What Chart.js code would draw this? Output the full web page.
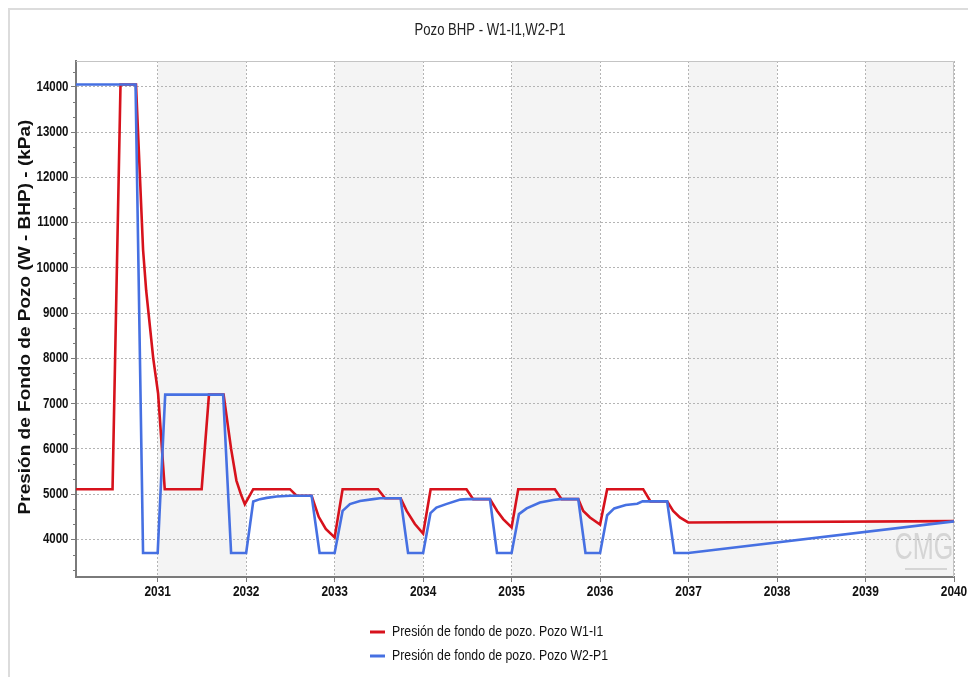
<!DOCTYPE html>
<html>
<head>
<meta charset="utf-8">
<script src="https://cdn.jsdelivr.net/npm/chart.js@4/dist/chart.umd.min.js"></script>
<style>
html,body{margin:0;padding:0;background:#fff;}
#wrap{width:968px;height:677px;position:relative;}
</style>
</head>
<body>
<div id="wrap"><canvas id="c" width="968" height="677"></canvas></div>
<script>
// ---------- data ----------
const chartTitle = 'Pozo BHP - W1-I1,W2-P1';
const yAxisTitle = 'Presión de Fondo de Pozo (W - BHP) - (kPa)';
const seriesNames = ['Presión de fondo de pozo. Pozo W1-I1', 'Presión de fondo de pozo. Pozo W2-P1'];
const watermarkText = 'CMG';

const xTickYears = [2031, 2032, 2033, 2034, 2035, 2036, 2037, 2038, 2039, 2040];
const yTickValues = [4000, 5000, 6000, 7000, 8000, 9000, 10000, 11000, 12000, 13000, 14000];
const shadedBandStarts = [2031, 2033, 2035, 2037, 2039];
const xRange = [2030.077, 2040];
const yRange = [3170, 14570];

// W1-I1 (red)
const redYears = [2030.077, 2030.49, 2030.58, 2030.755, 2030.835, 2030.87, 2030.95, 2031.005, 2031.08,
  2031.497, 2031.58, 2031.745, 2031.83, 2031.89, 2031.94, 2031.985, 2032.08,
  2032.495, 2032.57, 2032.74, 2032.82, 2032.9, 2033.0, 2033.09,
  2033.49, 2033.57, 2033.746, 2033.814, 2033.907, 2034.0, 2034.085,
  2034.49, 2034.566, 2034.755, 2034.837, 2034.905, 2035.0, 2035.075,
  2035.489, 2035.565, 2035.753, 2035.81, 2035.886, 2036.0, 2036.08,
  2036.487, 2036.57, 2036.758, 2036.826, 2036.902, 2036.996, 2038.0, 2040.0];
const redValues = [5110, 5110, 14050, 14050, 10400, 9500, 8000, 7220, 5110,
  5110, 7200, 7200, 6000, 5300, 5000, 4780, 5110,
  5110, 4965, 4965, 4500, 4230, 4045, 5110,
  5110, 4910, 4910, 4630, 4340, 4130, 5110,
  5110, 4890, 4890, 4630, 4450, 4265, 5110,
  5110, 4890, 4890, 4630, 4485, 4330, 5110,
  5110, 4840, 4840, 4630, 4485, 4375, 4385, 4405];

// W2-P1 (blue)
const blueYears = [2030.077, 2030.75, 2030.835, 2031.0, 2031.085, 2031.74, 2031.83, 2032.0,
  2032.08, 2032.156, 2032.232, 2032.345, 2032.495, 2032.74, 2032.83, 2033.0,
  2033.09, 2033.173, 2033.286, 2033.436, 2033.512, 2033.745, 2033.83, 2034.0,
  2034.083, 2034.15, 2034.26, 2034.42, 2034.5, 2034.755, 2034.835, 2035.0,
  2035.083, 2035.17, 2035.32, 2035.47, 2035.55, 2035.753, 2035.835, 2036.0,
  2036.08, 2036.16, 2036.29, 2036.42, 2036.48, 2036.758, 2036.84, 2036.996, 2040.0];
const blueValues = [14050, 14050, 3700, 3700, 7200, 7200, 3700, 3700,
  4837, 4890, 4918, 4947, 4965, 4965, 3700, 3700,
  4630, 4780, 4850, 4890, 4910, 4910, 3700, 3700,
  4580, 4705, 4780, 4880, 4890, 4890, 3700, 3700,
  4560, 4685, 4815, 4870, 4890, 4890, 3700, 3700,
  4535, 4685, 4760, 4790, 4840, 4840, 3700, 3700, 4400];

// ---------- styling ----------
const RED = '#d7121c';
const BLUE = '#4670e2';
const FONT = "'Liberation Sans', Arial, sans-serif";
const SQUEEZE = 0.82; // the reference uses a condensed face

const toPts = (xs, ys) => xs.map((x, i) => ({x: x, y: ys[i]}));

// draws horizontally condensed text
function condensedText(ctx, txt, x, y, font, align, color, rotate) {
  ctx.save();
  ctx.translate(x, y);
  if (rotate) {
    ctx.rotate(-Math.PI / 2);
    ctx.scale(1, SQUEEZE);
  } else {
    ctx.scale(SQUEEZE, 1);
  }
  ctx.font = font;
  ctx.fillStyle = color;
  ctx.textAlign = align;
  ctx.textBaseline = 'middle';
  ctx.fillText(txt, 0, 0);
  ctx.restore();
}

const decorPlugin = {
  id: 'decor',
  beforeDraw(chart) {
    const {ctx, chartArea: a, scales} = chart;
    ctx.save();
    ctx.fillStyle = '#ffffff';
    ctx.fillRect(0, 0, chart.width, chart.height);
    // outer frame
    ctx.strokeStyle = '#dcdcdc';
    ctx.lineWidth = 2;
    ctx.beginPath();
    ctx.moveTo(9, chart.height);
    ctx.lineTo(9, 9);
    ctx.lineTo(chart.width, 9);
    ctx.stroke();
    // shaded bands
    ctx.fillStyle = '#f4f4f4';
    shadedBandStarts.forEach(y0 => {
      const x0 = scales.x.getPixelForValue(y0);
      const x1 = scales.x.getPixelForValue(Math.min(y0 + 1, xRange[1]));
      ctx.fillRect(x0, a.top, x1 - x0, a.bottom - a.top);
    });
    ctx.restore();
    // watermark
    ctx.save();
    ctx.translate(924, 549);
    ctx.scale(0.7, 1);
    ctx.fillStyle = 'rgba(200,200,200,0.7)';
    ctx.font = "36px " + FONT;
    ctx.textAlign = 'center';
    ctx.textBaseline = 'middle';
    ctx.fillText(watermarkText, 0, 0);
    ctx.restore();
    ctx.save();
    ctx.fillStyle = 'rgba(200,200,200,0.7)';
    ctx.fillRect(905, 568, 42, 2);
    ctx.restore();
  },
  beforeDatasetsDraw(chart) {
    const {ctx, chartArea: a, scales} = chart;
    ctx.save();
    // plot frame top/right
    ctx.strokeStyle = '#c4c4c4';
    ctx.lineWidth = 1;
    ctx.beginPath();
    ctx.moveTo(a.left, a.top + 0.5);
    ctx.lineTo(a.right - 0.5, a.top + 0.5);
    ctx.lineTo(a.right - 0.5, a.bottom);
    ctx.stroke();
    // minor y ticks
    ctx.strokeStyle = '#7a7a7a';
    const step = 1000 / 3;
    for (let k = -3; k <= 33; k++) {
      const v = yTickValues[0] + k * step;
      if (v < yRange[0] || v > yRange[1]) continue;
      if (k % 3 === 0) continue;
      const py = Math.round(scales.y.getPixelForValue(v)) + 0.5;
      ctx.beginPath();
      ctx.moveTo(a.left - 3, py);
      ctx.lineTo(a.left, py);
      ctx.stroke();
    }
    ctx.restore();
  },
  afterDraw(chart) {
    const {ctx, chartArea: a, scales} = chart;
    // title
    condensedText(ctx, chartTitle, 490, 31, "16px " + FONT, 'center', '#222', false);
    // tick labels from the scales' own ticks
    scales.x.ticks.forEach(t => {
      condensedText(ctx, String(t.value), scales.x.getPixelForValue(t.value), a.bottom + 14.5,
                    "bold 14.5px " + FONT, 'center', '#111', false);
    });
    scales.y.ticks.forEach(t => {
      condensedText(ctx, String(t.value), a.left - 7.5, scales.y.getPixelForValue(t.value),
                    "bold 14px " + FONT, 'right', '#111', false);
    });
    // y axis title
    condensedText(ctx, yAxisTitle, 26, (a.top + a.bottom) / 2 - 2, "bold 19px " + FONT, 'center', '#111', true);
    // legend
    const rows = [[RED, seriesNames[0], 632], [BLUE, seriesNames[1], 656]];
    rows.forEach(([col, txt, y]) => {
      ctx.save();
      ctx.strokeStyle = col;
      ctx.lineWidth = 3;
      ctx.beginPath();
      ctx.moveTo(370, y);
      ctx.lineTo(385, y);
      ctx.stroke();
      ctx.restore();
      condensedText(ctx, txt, 392, y, "15px " + FONT, 'left', '#111', false);
    });
  }
};

new Chart(document.getElementById('c'), {
  type: 'line',
  data: {
    datasets: [
      {label: seriesNames[0], data: toPts(redYears, redValues), borderColor: RED, backgroundColor: RED,
       borderWidth: 2.6, pointRadius: 0, tension: 0, order: 2, yAxisID: 'y'},
      {label: seriesNames[1], data: toPts(blueYears, blueValues), borderColor: BLUE, backgroundColor: BLUE,
       borderWidth: 2.6, pointRadius: 0, tension: 0, order: 1, yAxisID: 'y'}
    ]
  },
  options: {
    responsive: false,
    animation: false,
    devicePixelRatio: 1,
    layout: {padding: {left: 12, right: 0, top: 61, bottom: 0}},
    plugins: {
      legend: {display: false},
      tooltip: {enabled: false},
      title: {display: false}
    },
    scales: {
      x: {
        type: 'linear', position: 'bottom', min: xRange[0], max: xRange[1],
        afterBuildTicks: s => { s.ticks = xTickYears.map(v => ({value: v})); },
        afterFit: s => { s.height = 100; },
        ticks: {display: false},
        grid: {color: '#b4b4b4', lineWidth: 1, tickLength: 5, tickColor: '#7a7a7a', tickWidth: 1},
        border: {display: true, color: '#7a7a7a', width: 2, dash: [2, 2]}
      },
      y: {
        type: 'linear', position: 'left', min: yRange[0], max: yRange[1],
        afterBuildTicks: s => { s.ticks = yTickValues.map(v => ({value: v})); },
        afterFit: s => { s.width = 64; },
        ticks: {display: false},
        grid: {color: '#b4b4b4', lineWidth: 1, tickLength: 5, tickColor: '#7a7a7a', tickWidth: 1},
        border: {display: true, color: '#7a7a7a', width: 2, dash: [2, 2]}
      },
      yr: {
        type: 'linear', position: 'right', display: true,
        afterFit: s => { s.width = 14; },
        grid: {display: false, drawTicks: false},
        ticks: {display: false},
        border: {display: false}
      }
    }
  },
  plugins: [decorPlugin]
});
</script>
</body>
</html>
